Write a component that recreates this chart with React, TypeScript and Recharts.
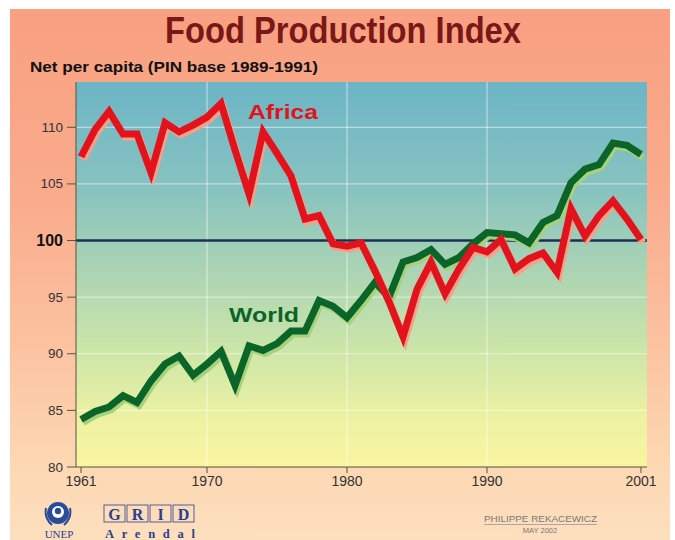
import React from "react";
import {
  LineChart,
  Line,
  XAxis,
  YAxis,
  ReferenceLine,
} from "recharts";

// years on the x axis
const years = [
  1961, 1962, 1963, 1964, 1965, 1966, 1967, 1968, 1969, 1970,
  1971, 1972, 1973, 1974, 1975, 1976, 1977, 1978, 1979, 1980,
  1981, 1982, 1983, 1984, 1985, 1986, 1987, 1988, 1989, 1990,
  1991, 1992, 1993, 1994, 1995, 1996, 1997, 1998, 1999, 2000, 2001,
];

// index values (base 1989-1991 = 100)
const africa = [
  107.4, 109.8, 111.4, 109.4, 109.4, 106.0, 110.4, 109.6, 110.2, 110.9,
  112.1, 108.0, 104.1, 109.6, 107.7, 105.7, 101.9, 102.2, 99.7, 99.5,
  99.8, 97.3, 94.6, 91.5, 95.7, 98.1, 95.3, 97.5, 99.4, 99.0,
  100.1, 97.5, 98.4, 98.9, 97.2, 102.8, 100.4, 102.2, 103.5, 101.9, 100.1,
];

const world = [
  84.2, 84.9, 85.3, 86.3, 85.7, 87.6, 89.1, 89.8, 88.1, 89.1,
  90.2, 87.2, 90.7, 90.3, 90.9, 92.0, 92.0, 94.7, 94.2, 93.2,
  94.7, 96.3, 95.0, 98.1, 98.5, 99.2, 97.9, 98.5, 99.7, 100.7,
  100.6, 100.5, 99.8, 101.6, 102.2, 105.1, 106.3, 106.7, 108.6, 108.4, 107.6,
];

const xTicks = [1961, 1970, 1980, 1990, 2001];
const yTicks = [80, 85, 90, 95, 100, 105, 110];
const yGrid = [85, 90, 95, 105, 110];
const xGrid = [1970, 1980, 1990];

const data = years.map((year, i) => ({
  year,
  africa: africa[i],
  world: world[i],
}));

const FONT = "'Liberation Sans', Arial, Helvetica, sans-serif";
const SERIF = "'Liberation Serif', 'DejaVu Serif', serif";
const axisColor = "#55553f";

const YTick = (props: any) => {
  const { x, y, payload } = props;
  const bold = payload.value === 100;
  return (
    <text
      x={x}
      y={y}
      dy={bold ? 5.5 : 4.5}
      textAnchor="end"
      fontFamily={FONT}
      fontSize={bold ? 16 : 13.5}
      fontWeight={bold ? 700 : 400}
      fill={bold ? "#111" : "#333"}
    >
      {payload.value}
    </text>
  );
};

export default function App() {
  return (
    <div
      style={{
        position: "absolute",
        left: 0,
        top: 0,
        width: 675,
        height: 540,
        background: "#fff",
        overflow: "hidden",
      }}
    >
      <style>{`
        .africa-line .recharts-line-curve { filter: drop-shadow(2px 3px 0 #f7a088); }
        .world-line .recharts-line-curve { filter: drop-shadow(2px 3px 0 #a6d27c); }
      `}</style>
      <div
        style={{
          position: "absolute",
          left: 10,
          top: 9,
          width: 660,
          height: 531,
          background:
            "linear-gradient(180deg, #f8a081 0%, #f9ab8c 35%, #fcc4a2 65%, #fdd7b2 85%, #fddfbe 100%)",
        }}
      />
      <div
        style={{
          position: "absolute",
          left: 76,
          top: 82,
          width: 571,
          height: 385,
          background:
            "linear-gradient(180deg, #6cb5c6 0%, #88c3c0 28%, #a9d3b4 48%, #cde6a9 70%, #eef2a2 88%, #faf5a0 100%)",
        }}
      />
      <LineChart
        width={675}
        height={540}
        data={data}
        margin={{ top: 82, right: 28, bottom: 43, left: 0 }}
        style={{ position: "absolute", left: 0, top: 0 }}
      >
        <XAxis
          dataKey="year"
          type="number"
          domain={[1960.64, 2001.43]}
          allowDataOverflow
          ticks={xTicks}
          interval={0}
          height={30}
          stroke={axisColor}
          tickSize={6}
          tickMargin={3}
          tick={{ fill: "#333", fontSize: 14, fontFamily: FONT }}
        />
        <YAxis
          type="number"
          domain={[80, 114]}
          allowDataOverflow
          ticks={yTicks}
          interval={0}
          width={76}
          stroke={axisColor}
          tickSize={9}
          tickMargin={4}
          tick={<YTick />}
        />
        {yGrid.map((v) => (
          <ReferenceLine
            key={"h" + v}
            y={v}
            stroke="#ffffff"
            strokeOpacity={0.6}
            strokeWidth={1}
          />
        ))}
        {xGrid.map((v) => (
          <ReferenceLine
            key={"v" + v}
            x={v}
            stroke="#ffffff"
            strokeOpacity={0.6}
            strokeWidth={1}
          />
        ))}
        <ReferenceLine y={100} stroke="#1b2f55" strokeWidth={2.5} />
        <Line
          className="world-line"
          type="linear"
          dataKey="world"
          stroke="#0c6528"
          strokeWidth={7}
          strokeLinejoin="miter"
          dot={false}
          activeDot={false}
          isAnimationActive={false}
        />
        <Line
          className="africa-line"
          type="linear"
          dataKey="africa"
          stroke="#e2131d"
          strokeWidth={7}
          strokeLinejoin="miter"
          dot={false}
          activeDot={false}
          isAnimationActive={false}
        />
      </LineChart>

      <svg
        width={675}
        height={540}
        style={{ position: "absolute", left: 0, top: 0, pointerEvents: "none" }}
      >
        <text
          x={165}
          y={43}
          textLength={356}
          lengthAdjust="spacingAndGlyphs"
          fontFamily={FONT}
          fontWeight={700}
          fontSize={37}
          fill="#7a1818"
        >
          Food Production Index
        </text>
        <text
          x={30}
          y={72}
          textLength={288}
          lengthAdjust="spacingAndGlyphs"
          fontFamily={FONT}
          fontWeight={700}
          fontSize={14.5}
          fill="#111"
        >
          Net per capita (PIN base 1989-1991)
        </text>
        <text
          x={248}
          y={119}
          textLength={70}
          lengthAdjust="spacingAndGlyphs"
          fontFamily={FONT}
          fontWeight={700}
          fontSize={20}
          fill="#e2131d"
        >
          Africa
        </text>
        <text
          x={229}
          y={322}
          textLength={70}
          lengthAdjust="spacingAndGlyphs"
          fontFamily={FONT}
          fontWeight={700}
          fontSize={20}
          fill="#0c6528"
        >
          World
        </text>

        {/* UNEP emblem */}
        <circle cx={58} cy={513} r={11} fill="#2a4a9a" />
        <circle cx={58} cy={512} r={6} fill="#fff" />
        <circle cx={58} cy={511} r={3.2} fill="#2a4a9a" />
        <path
          d="M46 508 Q44 518 52 525 M70 508 Q72 518 64 525"
          stroke="#2a4a9a"
          strokeWidth={2}
          fill="none"
        />
        <text
          x={59}
          y={538}
          textAnchor="middle"
          fontFamily={SERIF}
          fontSize={11}
          fill="#2a3f8f"
        >
          UNEP
        </text>

        {/* GRID Arendal */}
        {["G", "R", "I", "D"].map((ch, i) => (
          <g key={ch}>
            <rect
              x={104 + i * 23}
              y={505}
              width={21}
              height={17}
              fill="none"
              stroke="#2a3f8f"
              strokeWidth={0.8}
            />
            <text
              x={114.5 + i * 23}
              y={520}
              textAnchor="middle"
              fontFamily={SERIF}
              fontWeight={700}
              fontSize={16}
              fill="#2a3f8f"
            >
              {ch}
            </text>
          </g>
        ))}
        <text
          x={105}
          y={538}
          textLength={90}
          lengthAdjust="spacing"
          fontFamily={SERIF}
          fontWeight={700}
          fontSize={12.5}
          fill="#2a3f8f"
        >
          Arendal
        </text>

        {/* credit */}
        <text
          x={484}
          y={522}
          textLength={113}
          lengthAdjust="spacingAndGlyphs"
          fontFamily={FONT}
          fontSize={8.5}
          fill="#777"
        >
          PHILIPPE REKACEWICZ
        </text>
        <line x1={484} y1={524.5} x2={597} y2={524.5} stroke="#999" strokeWidth={0.8} />
        <text
          x={540}
          y={533}
          textAnchor="middle"
          fontFamily={FONT}
          fontSize={7.5}
          fill="#777"
        >
          MAY 2002
        </text>
      </svg>
    </div>
  );
}
